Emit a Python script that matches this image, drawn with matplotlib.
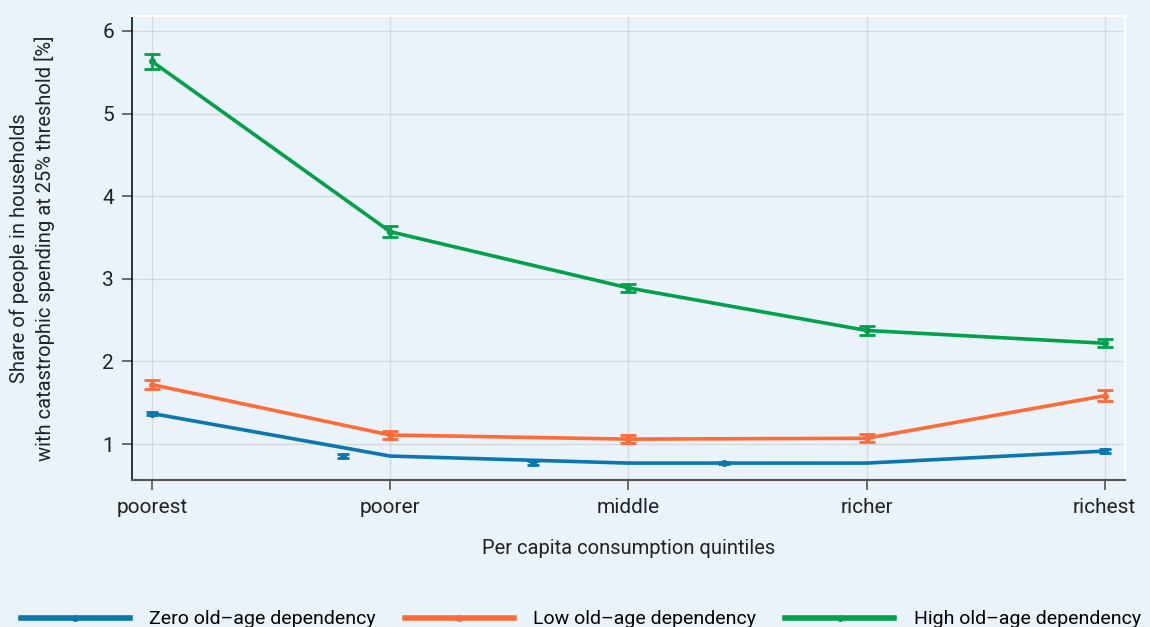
import matplotlib
matplotlib.use("Agg")
from matplotlib import pyplot as plt
from matplotlib.lines import Line2D
import numpy as np

# category labels on the x axis
quintiles = ["poorest", "poorer", "middle", "richer", "richest"]

# line values per quintile (%)
zero_vals = [1.37, 0.855, 0.77, 0.77, 0.915]
low_vals = [1.72, 1.11, 1.06, 1.07, 1.585]
high_vals = [5.63, 3.57, 2.89, 2.375, 2.22]

# error bar bounds (%)
low_lo = [1.665, 1.06, 1.01, 1.02, 1.52]
low_hi = [1.77, 1.16, 1.11, 1.12, 1.65]
high_lo = [5.54, 3.50, 2.84, 2.32, 2.17]
high_hi = [5.72, 3.64, 2.94, 2.43, 2.27]

# zero dependency markers sit off the category grid in the original
zero_marker_x = [0, 0.8, 1.6, 2.4, 4]
zero_err = [0.02, 0.02, 0.02, 0.015, 0.02]

BG = "#eaf2fa"
BLUE = "#0a77ae"
ORANGE = "#ff6a36"
GREEN = "#00a14a"


def draw_chart():
    """Draw the catastrophic spending chart and save it."""
    plt.rcParams["font.family"] = ["Roboto", "DejaVu Sans"]
    plt.rcParams["font.size"] = 14

    fig = plt.figure(figsize=(11.5, 6.27), dpi=100, facecolor=BG)
    ax = fig.add_axes([0.1148, 0.2344, 0.8632, 0.7401], facecolor=BG)

    x = np.arange(len(quintiles))

    ax.plot(x, zero_vals, color=BLUE, lw=2.6, zorder=3)
    ax.errorbar(zero_marker_x, zero_vals, yerr=zero_err, fmt="o", ms=4,
                color=BLUE, capsize=4, capthick=2, elinewidth=2, zorder=4)

    ax.plot(x, low_vals, color=ORANGE, lw=2.6, zorder=3)
    ax.errorbar(x, low_vals,
                yerr=[np.subtract(low_vals, low_lo), np.subtract(low_hi, low_vals)],
                fmt="o", ms=4, color=ORANGE, capsize=6, capthick=2,
                elinewidth=2, zorder=4)

    ax.plot(x, high_vals, color=GREEN, lw=2.6, zorder=3)
    ax.errorbar(x, high_vals,
                yerr=[np.subtract(high_vals, high_lo), np.subtract(high_hi, high_vals)],
                fmt="o", ms=4, color=GREEN, capsize=6, capthick=2,
                elinewidth=2, zorder=4)

    ax.set_xlim(-0.084, 4.084)
    ax.set_ylim(0.565, 6.18)
    ax.set_xticks(x)
    ax.set_xticklabels(quintiles)
    ax.set_yticks([1, 2, 3, 4, 5, 6])
    ax.grid(True, color="#d6d9dc", lw=1)
    ax.set_axisbelow(True)

    ax.tick_params(axis="both", direction="out", length=7, width=1.2,
                   color="#555555", labelcolor="#222222", labelsize=15, pad=6)

    for side in ["top", "right"]:
        ax.spines[side].set_color("white")
        ax.spines[side].set_linewidth(1.5)
    ax.spines["left"].set_color("#111111")
    ax.spines["bottom"].set_color("#555555")
    ax.spines["left"].set_linewidth(1.2)
    ax.spines["bottom"].set_linewidth(1.5)

    ax.set_xlabel("Per capita consumption quintiles", fontsize=14.5,
                  color="#222222", labelpad=16)
    ax.set_ylabel("Share of people in households\nwith catastrophic spending at 25% threshold [%]",
                  fontsize=14.5, color="#222222", labelpad=34, linespacing=1.35)

    handles = [
        Line2D([], [], color=BLUE, lw=4, marker="o", ms=4),
        Line2D([], [], color=ORANGE, lw=4, marker="o", ms=4),
        Line2D([], [], color=GREEN, lw=4, marker="o", ms=4),
    ]
    labels = ["Zero old\u2013age dependency", "Low old\u2013age dependency",
              "High old\u2013age dependency"]
    fig.legend(handles, labels, loc="lower center", bbox_to_anchor=(0.505, -0.03),
               ncol=3, frameon=False, fontsize=14, handlelength=5.6,
               columnspacing=1.5, handletextpad=1.0, numpoints=1)

    fig.savefig("out.png", dpi=100, facecolor=BG)


if __name__ == "__main__":
    draw_chart()
